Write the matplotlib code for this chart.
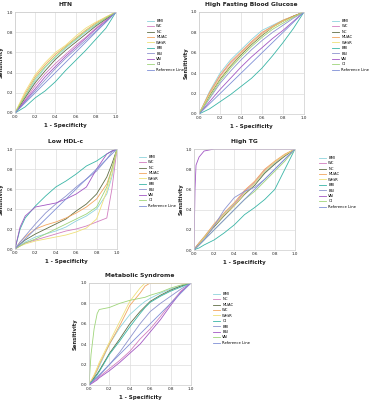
import matplotlib
matplotlib.use("Agg")
import matplotlib.pyplot as plt

plt.rcParams['font.family'] = ['DejaVu Sans']

# colours are assigned by legend position (as in SPSS output)
POS_COLORS = ['#8ed3dc', '#d27fc0', '#5f6e45', '#f2a65e', '#efe07a',
              '#39b5a6', '#8d93cf', '#a257c4', '#9fd57a', '#7f8fd6']

# ---------------- HTN ----------------
htn_order = ['BMI', 'WC', 'NC', 'MUAC', 'WHtR', 'BRI', 'BSI', 'VAI', 'CI', 'Reference Line']
htn_x = [0, 0.1, 0.2, 0.3, 0.4, 0.5, 0.6, 0.7, 0.8, 0.9, 1.0]
htn = {
    'BMI':  [0, 0.16, 0.32, 0.45, 0.55, 0.64, 0.72, 0.80, 0.87, 0.94, 1],
    'WC':   [0, 0.13, 0.27, 0.39, 0.49, 0.58, 0.67, 0.75, 0.84, 0.92, 1],
    'NC':   [0, 0.15, 0.30, 0.42, 0.53, 0.62, 0.70, 0.78, 0.86, 0.93, 1],
    'MUAC': [0, 0.19, 0.36, 0.48, 0.58, 0.66, 0.74, 0.82, 0.89, 0.95, 1],
    'WHtR': [0, 0.21, 0.38, 0.50, 0.60, 0.67, 0.76, 0.84, 0.90, 0.95, 1],
    'BRI':  [0, 0.06, 0.15, 0.22, 0.31, 0.42, 0.52, 0.62, 0.73, 0.84, 1],
    'BSI':  [0, 0.11, 0.22, 0.33, 0.44, 0.54, 0.63, 0.72, 0.81, 0.90, 1],
    'VAI':  [0, 0.12, 0.24, 0.36, 0.46, 0.56, 0.65, 0.74, 0.83, 0.91, 1],
    'CI':   [0, 0.17, 0.34, 0.46, 0.56, 0.65, 0.73, 0.81, 0.88, 0.94, 1],
    'Reference Line': [0, 0.1, 0.2, 0.3, 0.4, 0.5, 0.6, 0.7, 0.8, 0.9, 1],
}

# ---------------- High Fasting Blood Glucose ----------------
fbg_x = [0, 0.1, 0.2, 0.3, 0.4, 0.5, 0.6, 0.7, 0.8, 0.9, 1.0]
fbg = {
    'BMI':  [0, 0.22, 0.40, 0.53, 0.63, 0.73, 0.82, 0.87, 0.92, 0.96, 1],
    'WC':   [0, 0.20, 0.37, 0.50, 0.60, 0.70, 0.79, 0.86, 0.91, 0.96, 1],
    'NC':   [0, 0.18, 0.34, 0.47, 0.58, 0.68, 0.77, 0.85, 0.91, 0.96, 1],
    'MUAC': [0, 0.21, 0.38, 0.51, 0.61, 0.71, 0.80, 0.86, 0.92, 0.96, 1],
    'WHtR': [0, 0.19, 0.35, 0.48, 0.59, 0.69, 0.78, 0.85, 0.91, 0.95, 1],
    'BRI':  [0, 0.05, 0.12, 0.19, 0.27, 0.35, 0.45, 0.57, 0.70, 0.84, 1],
    'BSI':  [0, 0.15, 0.30, 0.42, 0.53, 0.63, 0.72, 0.80, 0.87, 0.94, 1],
    'VAI':  [0, 0.12, 0.24, 0.35, 0.46, 0.56, 0.65, 0.74, 0.82, 0.91, 1],
    'CI':   [0, 0.16, 0.32, 0.45, 0.56, 0.66, 0.75, 0.83, 0.89, 0.95, 1],
    'Reference Line': [0, 0.1, 0.2, 0.3, 0.4, 0.5, 0.6, 0.7, 0.8, 0.9, 1],
}

# ---------------- Low HDL-c ----------------
hdl_x = [0, 0.05, 0.1, 0.2, 0.3, 0.4, 0.5, 0.6, 0.7, 0.8, 0.9, 0.95, 1.0]
hdl = {
    'BMI':  [0, 0.04, 0.07, 0.12, 0.15, 0.18, 0.22, 0.28, 0.33, 0.40, 0.55, 0.72, 1],
    'WC':   [0, 0.03, 0.06, 0.09, 0.12, 0.15, 0.18, 0.20, 0.23, 0.27, 0.31, 0.60, 1],
    'NC':   [0, 0.05, 0.09, 0.15, 0.20, 0.25, 0.30, 0.38, 0.45, 0.55, 0.72, 0.85, 1],
    'MUAC': [0, 0.07, 0.12, 0.20, 0.24, 0.27, 0.31, 0.36, 0.42, 0.50, 0.65, 0.80, 1],
    'WHtR': [0, 0.03, 0.05, 0.08, 0.10, 0.12, 0.14, 0.17, 0.21, 0.30, 0.58, 0.75, 1],
    'BRI':  [0, 0.20, 0.31, 0.43, 0.53, 0.62, 0.68, 0.75, 0.83, 0.88, 0.95, 0.98, 1],
    'BSI':  [0, 0.07, 0.13, 0.25, 0.36, 0.45, 0.53, 0.62, 0.70, 0.78, 0.90, 0.97, 1],
    'VAI':  [0, 0.22, 0.33, 0.42, 0.44, 0.46, 0.50, 0.55, 0.62, 0.80, 0.95, 0.98, 1],
    'CI':   [0, 0.03, 0.06, 0.10, 0.15, 0.20, 0.25, 0.30, 0.35, 0.42, 0.62, 0.80, 1],
    'Reference Line': [0, 0.05, 0.1, 0.2, 0.3, 0.4, 0.5, 0.6, 0.7, 0.8, 0.9, 0.95, 1],
}

# ---------------- High TG ----------------
tg_x = [0, 0.01, 0.02, 0.05, 0.1, 0.2, 0.3, 0.4, 0.5, 0.6, 0.7, 0.8, 0.9, 1.0]
tg = {
    'BMI':  [0, 0.01, 0.03, 0.07, 0.13, 0.25, 0.36, 0.46, 0.57, 0.66, 0.77, 0.86, 0.94, 1],
    'WC':   [0, 0.01, 0.03, 0.07, 0.12, 0.24, 0.35, 0.45, 0.58, 0.67, 0.79, 0.87, 0.94, 1],
    'NC':   [0, 0.01, 0.03, 0.06, 0.12, 0.23, 0.34, 0.44, 0.55, 0.64, 0.76, 0.85, 0.93, 1],
    'MUAC': [0, 0.01, 0.03, 0.07, 0.13, 0.26, 0.37, 0.47, 0.59, 0.68, 0.80, 0.88, 0.95, 1],
    'WHtR': [0, 0.01, 0.02, 0.06, 0.12, 0.24, 0.35, 0.44, 0.56, 0.66, 0.78, 0.87, 0.94, 1],
    'BRI':  [0, 0.0, 0.01, 0.02, 0.05, 0.10, 0.17, 0.25, 0.35, 0.42, 0.50, 0.60, 0.80, 1],
    'BSI':  [0, 0.01, 0.02, 0.05, 0.10, 0.24, 0.40, 0.52, 0.58, 0.62, 0.70, 0.80, 0.90, 1],
    'VAI':  [0, 0.60, 0.84, 0.92, 0.98, 1.0, 1.0, 1.0, 1.0, 1.0, 1.0, 1.0, 1.0, 1],
    'CI':   [0, 0.01, 0.02, 0.05, 0.10, 0.20, 0.30, 0.40, 0.50, 0.58, 0.68, 0.78, 0.88, 1],
    'Reference Line': [0, 0.01, 0.02, 0.05, 0.1, 0.2, 0.3, 0.4, 0.5, 0.6, 0.7, 0.8, 0.9, 1],
}

# ---------------- Metabolic Syndrome ----------------
ms_order = ['BMI', 'NC', 'MUAC', 'WC', 'WHtR', 'CI', 'BRI', 'BSI', 'VAI', 'Reference Line']
ms_x = [0, 0.02, 0.05, 0.08, 0.1, 0.2, 0.3, 0.4, 0.5, 0.55, 0.6, 0.7, 0.8, 0.9, 1.0]
ms = {
    'BMI':  [0, 0.03, 0.08, 0.14, 0.18, 0.40, 0.56, 0.69, 0.78, 0.82, 0.85, 0.90, 0.94, 0.97, 1],
    'NC':   [0, 0.02, 0.04, 0.06, 0.08, 0.16, 0.24, 0.33, 0.45, 0.50, 0.55, 0.67, 0.80, 0.92, 1],
    'MUAC': [0, 0.03, 0.07, 0.11, 0.14, 0.31, 0.45, 0.60, 0.72, 0.77, 0.82, 0.88, 0.93, 0.97, 1],
    'WC':   [0, 0.04, 0.09, 0.15, 0.20, 0.40, 0.58, 0.78, 0.90, 0.97, 1.0, 1.0, 1.0, 1.0, 1],
    'WHtR': [0, 0.04, 0.10, 0.17, 0.22, 0.42, 0.62, 0.82, 0.95, 1.0, 1.0, 1.0, 1.0, 1.0, 1],
    'CI':   [0, 0.03, 0.06, 0.10, 0.13, 0.30, 0.43, 0.57, 0.70, 0.76, 0.81, 0.87, 0.92, 0.96, 1],
    'BRI':  [0, 0.02, 0.05, 0.07, 0.09, 0.20, 0.32, 0.46, 0.60, 0.66, 0.72, 0.80, 0.87, 0.94, 1],
    'BSI':  [0, 0.01, 0.03, 0.05, 0.07, 0.14, 0.22, 0.31, 0.40, 0.46, 0.52, 0.64, 0.78, 0.91, 1],
    'VAI':  [0, 0.30, 0.55, 0.70, 0.74, 0.76, 0.80, 0.83, 0.85, 0.86, 0.88, 0.91, 0.95, 0.98, 1],
    'Reference Line': [0, 0.02, 0.05, 0.08, 0.1, 0.2, 0.3, 0.4, 0.5, 0.55, 0.6, 0.7, 0.8, 0.9, 1],
}

ticks = [0.0, 0.2, 0.4, 0.6, 0.8, 1.0]
tick_labels = ['0.0', '0.2', '0.4', '0.6', '0.8', '1.0']

W, H = 371, 400
fig = plt.figure(figsize=(W / 100, H / 100), dpi=100)


def rect(l, t, r, b):
    return [l / W, 1 - b / H, (r - l) / W, (b - t) / H]


def panel(box, title, xs, data, order, leg_anchor, ylab_x):
    ax = fig.add_axes(rect(*box))
    for i, name in enumerate(order):
        ax.plot(xs, data[name], color=POS_COLORS[i], lw=0.6, label=name)
    ax.set_xlim(0, 1)
    ax.set_ylim(0, 1)
    ax.set_xticks(ticks)
    ax.set_yticks(ticks)
    ax.set_xticklabels(tick_labels)
    ax.set_yticklabels(tick_labels)
    ax.tick_params(labelsize=3.0, length=0, pad=1.2, colors='#222222')
    ax.grid(True, color='#dddddd', lw=0.5)
    ax.set_axisbelow(True)
    for s in ax.spines.values():
        s.set_color('#cccccc')
        s.set_linewidth(0.5)
    ax.set_title(title, fontsize=4.3, fontweight='bold', pad=4, color='#222222')
    ax.set_xlabel('1 - Specificity', fontsize=4, fontweight='bold', labelpad=3, color='#222222')
    ax.set_ylabel('Sensitivity', fontsize=3.8, fontweight='bold', color='#222222')
    l, t, r, b = box
    ax.yaxis.set_label_coords((ylab_x - l) / (r - l), 0.5)
    ax.legend(loc='upper left', bbox_to_anchor=(leg_anchor[0] / W, 1 - leg_anchor[1] / H),
              bbox_transform=fig.transFigure, frameon=False, fontsize=2.7,
              handlelength=1.9, handletextpad=0.6, labelspacing=0.38,
              borderaxespad=0, borderpad=0)
    return ax


panel((15, 12, 116, 113), 'HTN', htn_x, htn, htn_order, (147, 19), 4)
panel((199, 12, 304, 114), 'High Fasting Blood Glucose', fbg_x, fbg, htn_order, (332, 19), 189)
panel((15, 149, 117, 249), 'Low HDL-c', hdl_x, hdl, htn_order, (139, 155), 4)
panel((194, 149, 295, 250), 'High TG', tg_x, tg, htn_order, (319, 156), 184)
panel((89, 283, 191, 385), 'Metabolic Syndrome', ms_x, ms, ms_order, (213, 292), 78)

fig.savefig('out.png', dpi=100, facecolor='white')
